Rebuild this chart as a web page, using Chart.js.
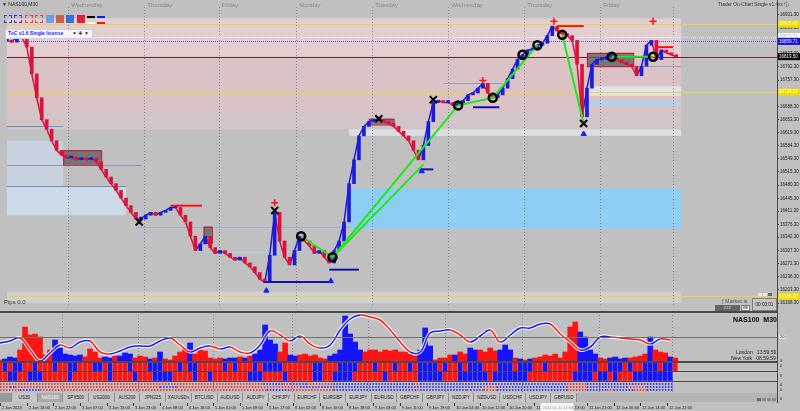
<!DOCTYPE html>
<html lang="en">
<head>
<meta charset="UTF-8">
<title>NAS100,M30</title>
<script src="https://cdn.jsdelivr.net/npm/chart.js"></script>
<style>
  body { margin: 0; width: 800px; height: 411px; background: #c0c0c0; overflow: hidden; position: relative;
         font-family: "Liberation Sans", "DejaVu Sans", sans-serif; }
  canvas { position: absolute; left: 0; }
  .ov { position: absolute; white-space: nowrap; line-height: 1; }
  .hl { position: absolute; left: 0; width: 777px; height: 1px; background: #4a4a4a; }
  .sq { position: absolute; top: 15px; width: 8px; height: 8px; box-sizing: border-box; }
  #tabs { position: absolute; left: 0; top: 393px; width: 777px; height: 9px; background: #b4b4b4; display: flex; }
  #tabs div { width: 25.7px; height: 9px; box-sizing: border-box; border-right: 1px solid #8c8c8c; background: #c6c6c6;
              font-size: 4.6px; line-height: 9px; text-align: center; color: #222; }
  #tabs div.on { background: #a9a9a9; color: #fff; }
</style>
</head>
<body>
<canvas id="main" width="800" height="312" style="top:0"></canvas>
<canvas id="osc" width="800" height="50" style="top:312px"></canvas>
<canvas id="rows" width="800" height="19" style="top:362px"></canvas>
<canvas id="dots" width="800" height="29" style="top:382px"></canvas>

<!-- panel separators -->
<div class="hl" style="top:311px;height:2px"></div>
<div class="hl" style="top:337px;background:#707070"></div>
<div class="hl" style="top:361px;height:2px"></div>
<div class="hl" style="top:371px"></div>
<div class="hl" style="top:381px"></div>
<div style="position:absolute;left:777px;top:0;width:1px;height:403px;background:#4a4a4a"></div>

<!-- top left widgets -->
<div class="ov" style="left:2px;top:2px;font-size:5px;color:#222">▼ NAS100,M30</div>
<div class="sq" style="left:4px;border:1px dashed #3a3ae0"></div>
<div class="sq" style="left:14px;border:1px dashed #3a3ae0"></div>
<div class="sq" style="left:25px;border:1px dashed #e04848"></div>
<div class="sq" style="left:35px;border:1px dashed #e04848"></div>
<div class="sq" style="left:46px;background:#6f9de6"></div>
<div class="sq" style="left:56px;background:#c8604a"></div>
<div class="sq" style="left:66px;background:#3b6fe0"></div>
<div class="sq" style="left:77px;background:#e0203a"></div>
<div style="position:absolute;left:87px;top:16px;width:8px;height:2px;background:#000"></div>
<div style="position:absolute;left:87px;top:22px;width:8px;height:2px;background:#fff"></div>
<div style="position:absolute;left:97px;top:16px;width:8px;height:2px;background:#1a1ae8"></div>
<div style="position:absolute;left:97px;top:22px;width:8px;height:2px;background:#e81a1a"></div>
<div class="ov" style="left:5px;top:29px;width:86px;height:8px;background:#f6f6fa;border:1px solid #d0d0d8;border-radius:2px"></div>
<div class="ov" style="left:8px;top:31px;font-size:5px;font-weight:bold;color:#2a2af0">ToC v1.6 Single license</div>
<div class="ov" style="left:72px;top:31px;font-size:5px;color:#333">▼ ✚ ▼</div>
<div class="ov" style="left:718px;top:3px;font-size:4.8px;color:#333">Trader On-Chart Single v1.4xx ⓘ</div>

<!-- bottom of main pane -->
<div class="ov" style="left:4px;top:299px;font-size:6px;color:#333">Pips 0.0</div>
<div class="ov" style="left:758px;top:293px;width:4px;height:3px;background:#e8e8e8"></div>
<div class="ov" style="left:763px;top:293px;width:4px;height:3px;background:#e8e8e8"></div>
<div class="ov" style="left:768px;top:293px;width:4px;height:3px;background:#6a6a6a"></div>
<div class="ov" style="left:722px;top:299px;font-size:5.5px;color:#555">[ Market is</div>
<div class="ov" style="left:715px;top:305px;width:25px;height:6px;background:#666;color:#ddd;font-size:4px;text-align:center;line-height:6px">ZZZ</div>
<div class="ov" style="left:741px;top:305px;width:9px;height:6px;background:#eee;border:1px solid #777;box-sizing:border-box;font-size:3.5px;text-align:center;line-height:5px">KE</div>
<div class="ov" style="left:752px;top:298px;width:25px;height:13px;border:1px solid #808080;box-sizing:border-box;background:#c4c4c4;font-size:4.6px;text-align:center;line-height:12px;color:#222">00:00:01</div>

<!-- oscillator pane texts -->
<div class="ov" style="left:733px;top:316px;font-size:7px;font-weight:bold;color:#000">NAS100&nbsp; M30</div>
<div class="ov" style="left:736px;top:350px;font-size:5px;color:#222">London&nbsp;&nbsp; 13:59:59</div>
<div class="ov" style="left:731px;top:356px;font-size:5px;color:#222">New York&nbsp;&nbsp; 08:59:59</div>
<div class="ov" style="left:779px;top:335px;font-size:4px;color:#222;background:#e8e8e8;padding:0 1px">20</div>
<div class="ov" style="left:780px;top:359px;font-size:4px;color:#222">0</div>
<div class="ov" style="left:780px;top:364px;font-size:4px;color:#222">0</div>
<div class="ov" style="left:780px;top:374px;font-size:4px;color:#222">0</div>
<div class="ov" style="left:780px;top:383px;font-size:4px;color:#222">0</div>
<div class="ov" style="left:780px;top:388px;font-size:4px;color:#222">0</div>
<div class="ov" style="left:780px;top:397px;font-size:4px;color:#222">0</div>

<div id="tabs"></div>
<div class="ov" style="left:757px;top:398px;width:4px;height:3px;background:#6a6a6a"></div>
<div class="ov" style="left:762px;top:398px;width:4px;height:3px;background:#8a8a8a"></div>
<div class="ov" style="left:767px;top:398px;width:4px;height:3px;background:#8a8a8a"></div>
<div class="ov" style="left:772px;top:398px;width:4px;height:3px;background:#8a8a8a"></div>

<script>
// ---- data ----
// closes sampled every 3 M30 bars (bar 0 = left edge)
const closes = [
  16862.5, 16858.0, 16875.1, 16870.0, 16844.8, 16774.1, 16711.0, 16653.0, 16627.7, 16597.4,
  16572.2, 16559.6, 16552.0, 16554.5, 16547.0, 16552.0, 16547.0, 16552.0, 16541.9, 16521.7,
  16501.5, 16483.9, 16466.2, 16446.0, 16425.8, 16408.1, 16390.5, 16390.5, 16400.6, 16408.1,
  16400.6, 16408.1, 16413.2, 16420.8, 16420.8, 16400.6, 16382.9, 16345.0, 16307.2, 16324.8,
  16345.0, 16314.7, 16299.6, 16307.2, 16299.6, 16289.5, 16281.9, 16289.5, 16274.4, 16264.3,
  16249.1, 16231.5, 16223.9, 16294.6, 16408.1, 16332.4, 16289.5, 16269.3, 16307.2, 16345.0,
  16332.4, 16319.8, 16299.6, 16307.2, 16289.5, 16274.4, 16307.2, 16332.4, 16382.9, 16483.9,
  16547.0, 16610.1, 16635.3, 16647.9, 16653.0, 16653.0, 16647.9, 16642.9, 16635.3, 16622.7,
  16610.1, 16597.4, 16572.2, 16547.0, 16584.8, 16647.9, 16698.4, 16703.4, 16698.4, 16698.4,
  16690.8, 16693.3, 16703.4, 16718.6, 16723.6, 16736.3, 16748.9, 16723.6, 16711.0, 16718.6,
  16736.3, 16761.5, 16786.7, 16812.0, 16824.6, 16837.2, 16837.2, 16849.8, 16854.9, 16875.1,
  16900.3, 16887.7, 16880.1, 16875.1, 16862.5, 16799.4, 16660.5, 16736.3, 16799.4, 16812.0,
  16812.0, 16819.5, 16824.6, 16812.0, 16804.4, 16799.4, 16794.3, 16769.1, 16794.3, 16849.8,
  16862.5, 16812.0, 16837.2, 16829.6, 16824.6, 16819.5
];
// histogram, same sampling; + blue, - red
const histo = [
  -2, 3, 5, 4, -12, -35, -27, -28, -25, -7,
  -12, 22, 14, 8, 7, 6, 7, -5, -13, -10,
  -4, 5, 4, -6, 6, 9, 8, -4, -6, -5,
  3, -4, 10, -3, -2, -6, -10, -14, 19, -8,
  -12, -11, -4, -3, -4, 3, 4, 4, -5, 4,
  -6, 8, 12, 37, 22, 18, -10, -19, 7, 6,
  -7, -8, -6, -7, -4, -3, 6, 8, 12, 46,
  28, 20, 12, -10, -12, -12, -10, -12, -11, -12,
  -10, -10, -8, -6, 12, 34, 16, -2, -4, -4,
  -7, 7, -10, -8, 14, 12, -12, -10, -14, -11,
  12, 17, 12, -4, 3, -2, 3, -4, -5, -7,
  -6, -8, -4, -10, -35, -40, 30, 25, 12, 8,
  -4, -3, 4, 5, 3, 4, -4, -5, -6, -8,
  25, -12, -10, -9, 5, -4
];
// oscillator line, every 6 bars
const oscLine = [
  19, 21, 24, 12, 1, 9, 17, 14, 20, 21,
  10, 8, 11, 15, 16, 16, 21, 24, 17, 10,
  14, 16, 13, 15, 10, 9, 17, 31, 27, 21,
  26, 18, 14, 17, 32, 43, 47, 45, 42, 32,
  20, 10, 10, 29, 31, 32, 27, 20, 26, 32,
  20, 27, 34, 34, 38, 38, 28, 20, 12, 15,
  25, 25, 24, 23, 22, 18, 23, 22
];
// strength rows, one letter per 3 bars
const rowA = 'rbrbbrrbrrrbrrbbrrrbbrbrrrbrrrbbbrrrbrbbrrrrrbrbrrrbrbbbbrrrrrrbbrrrbbbbrrrbrrrbrrbrbbbbrbrrbrbbbrrrbbbrbbbrrbrrrrrrbbbbrrbbbrbrrbbbrbbr';
const rowB = 'rrbbrrbbbrrrrrbrrrrrrrbrrrrbrrrbbbbrrrrbrrbrrrrrrrbbbrrrrbrrrrrbbrrbbbbrrrrrrbrrrrrrbbbbbrrrbbbbbbrbbbbbbbrrrrrrrrrbbbbrbbrbrrrbbbbbbbb';
// dotted rows: end bar of each segment, colours alternate starting with red
const dotEnds = [
  [158, 170, 174, 184, 200, 248, 252, 340, 352, 404],
  [6, 9, 96, 106, 180, 290, 298, 340, 352, 376, 388, 404],
  [12, 24, 160, 174, 200, 250, 252, 280, 282, 290, 298, 340, 352, 364, 368, 380, 388, 404]
];

const priceTicks = ['16168.30', '16203.30', '16238.30', '16272.30', '16307.30', '16342.30', '16376.30', '16411.30',
  '16445.30', '16480.30', '16515.30', '16549.30', '16584.30', '16619.30', '16653.30', '16688.30', '16723.30',
  '16757.30', '16792.30', '16827.30', '16861.30', '16896.30', '16931.30'];
const timeLabels = ['2 Jan 2024', '2 Jan 14:00', '2 Jan 22:00', '3 Jan 07:00', '3 Jan 15:00', '3 Jan 23:00',
  '4 Jan 08:00', '4 Jan 16:00', '5 Jan 01:00', '5 Jan 09:00', '5 Jan 17:00', '8 Jan 02:00', '8 Jan 10:00',
  '8 Jan 18:00', '9 Jan 03:00', '9 Jan 11:00', '9 Jan 19:00', '10 Jan 04:00', '10 Jan 12:00', '10 Jan 20:00',
  '11 Jan 05:00', '11 Jan 13:00', '11 Jan 21:00', '12 Jan 06:00', '12 Jan 14:00', '12 Jan 22:00'];
const crossTime = '2024.01.11 11:04';
const crossBar = 332;
const dayBars = [37, 83, 128, 175, 221, 267, 313, 359, 403];
const dayNames = ['Wednesday', 'Thursday', 'Friday', 'Monday', 'Tuesday', 'Wednesday', 'Thursday', 'Friday'];
const tabNames = ['US30', 'NAS100', 'SPX500', 'US2000', 'AUS200', 'JPN225', 'XAUUSDx', 'BTCUSD', 'AUDUSD', 'AUDJPY',
  'CHFJPY', 'EURCHF', 'EURGBP', 'EURJPY', 'EURUSD', 'GBPCHF', 'GBPJPY', 'NZDJPY', 'NZDUSD', 'USDCHF', 'USDJPY', 'GBPUSD'];

// zones (bar range, price range)
const zoneFrom = [0, 0, 0, 0, 0, 207, 351, 351, 207, 0];
const zoneTo = [408, 408, 408, 34, 72, 408, 408, 408, 408, 408];
const zoneLow = [16819.5, 16673.2, 16627.7, 16476.3, 16400.6, 16365.2, 16716.1, 16688.3, 16610.1, 16168.3];
const zoneHigh = [16920.5, 16819.5, 16673.2, 16597.4, 16476.3, 16471.2, 16741.3, 16700.9, 16627.7, 16198.6];
const zoneColor = ['#e3cfd1', '#dbc2c5', '#d3c5c7', '#c8d2de', '#ccd9e6', '#8dcff4', '#dfe3e8', '#abd4f2', '#dcdde2', '#d0d0d0'];
// consolidation boxes
const boxFrom = [34, 219, 351, 119];
const boxTo = [57, 234, 379, 124];
const boxLow = [16534.3, 16640.3, 16794.3, 16327.4];
const boxHigh = [16572.2, 16655.5, 16829.6, 16370.3];
// horizontal levels
const levFrom = [0, 0, 0, 0, 0, 0, 0, 0, 0, 78, 120, 264, 351];
const levTo = [466, 466, 466, 466, 466, 466, 34, 81, 72, 207, 207, 300, 408];
const levPrice = [16905.4, 16872.5, 16859.9, 16819.5, 16726.2, 16186.0, 16635.3, 16534.3, 16478.8, 16370.3, 16302.1, 16748.9, 16794.3];
const levColor = ['#e8d44a', '#f6f6f6', '#5a5af0', '#6e2a2a', '#e8d44a', '#e8d44a', '#6f8fbf', '#7d9ac6', '#6f8fbf', '#9ab4d8', '#b4c8e0', '#8aa0c8', '#8aa0c8'];
const levDash = [0, 1, 1, 0, 0, 0, 0, 0, 0, 0, 0, 0, 0];
// short thick lines
const redLineFrom = [99, 333, 393], redLineTo = [118, 349, 403], redLinePrice = [16425.8, 16900.3, 16844.8];
const blueLineFrom = [155, 195, 282, 249], blueLineTo = [197, 213, 298, 258], blueLinePrice = [16223.9, 16256.7, 16685.8, 16521.7];
// markers
const ringBars = [178, 197, 273, 294, 312, 321, 336, 366, 391];
const ringPrices = [16345.0, 16289.5, 16690.8, 16711.0, 16824.6, 16849.8, 16877.6, 16819.5, 16819.5];
const crossBars = [80, 162, 225, 258, 349];
const crossPrices = [16382.9, 16413.2, 16655.5, 16706.0, 16642.9];
const plusBars = [162, 288, 331, 391];
const plusPrices = [16433.4, 16756.4, 16912.9, 16912.9];
const arrowBars = [157, 196, 349, 251];
const arrowPrices = [16201.2, 16226.4, 16615.1, 16516.7];
const greenFrom = [[178, 16345.0], [197, 16289.5], [197, 16289.5], [273, 16690.8], [294, 16711.0], [336, 16877.6], [366, 16819.5]];
const greenTo = [[197, 16289.5], [252, 16534.3], [273, 16690.8], [294, 16711.0], [321, 16849.8], [349, 16642.9], [391, 16819.5]];
// right axis price tags
const tagPrice = [16905.4, 16872.5, 16859.9, 16819.5, 16726.2, 16186.0];
const tagText = ['16905.40', '16872.71', '16859.71', '16819.50', '16726.20', '16186.00'];
const tagBg = ['#f0dc00', '#ffffff', '#1010e0', '#000000', '#f0dc00', '#f0dc00'];
const tagFg = ['#fffbd0', '#b0b0b0', '#ffffff', '#ffffff', '#fffbd0', '#fffbd0'];

// ---- setup ----
const X_MAX = 466, STEP = 3, OSC_STEP = 6, LABEL_EVERY = 16, AXIS_W = 23;
const Y_MIN = 16163.3, Y_MAX = 16950.8;
const RED = '#d8143c', BLUE = '#1c1cd8', HRED = '#ff1414', HBLUE = '#1414ff';

Chart.defaults.font.family = "'Liberation Sans', 'DejaVu Sans', sans-serif";
Chart.defaults.animation = false;
Chart.defaults.events = [];
Chart.defaults.plugins.legend.display = false;
Chart.defaults.plugins.tooltip.enabled = false;

const tabs = document.getElementById('tabs');
const lead = document.createElement('div');
lead.style.width = '12px';
lead.style.background = '#9a9a9a';
tabs.appendChild(lead);
tabNames.forEach((n, i) => {
  const d = document.createElement('div');
  d.textContent = n;
  if (i === 1) d.className = 'on';
  tabs.appendChild(d);
});

function xScale() {
  return { type: 'linear', min: 0, max: X_MAX, offset: false, display: false };
}
function yScale(min, max, extra) {
  return Object.assign({
    type: 'linear', position: 'right', min, max,
    grid: { display: false },
    border: { display: false },
    ticks: { display: false },
    afterFit: s => { s.width = AXIS_W; }
  }, extra || {});
}

function drawDays(chart) {
  const { ctx, chartArea: a, scales: { x } } = chart;
  ctx.save();
  ctx.strokeStyle = '#8a8a8a';
  ctx.lineWidth = 1;
  ctx.setLineDash([1, 2]);
  dayBars.forEach(b => {
    const px = Math.round(x.getPixelForValue(b)) + 0.5;
    ctx.beginPath();
    ctx.moveTo(px, a.top);
    ctx.lineTo(px, a.bottom);
    ctx.stroke();
  });
  ctx.restore();
}
const daysPlugin = { id: 'days', beforeDatasetsDraw: drawDays };

// main pane decorations
const mainDecor = {
  id: 'mainDecor',
  beforeDatasetsDraw(chart) {
    const { ctx, chartArea: a, scales: { x, y } } = chart;
    ctx.save();
    ctx.beginPath();
    ctx.rect(a.left, a.top, a.width, a.height);
    ctx.clip();
    zoneFrom.forEach((f, i) => {
      const x0 = x.getPixelForValue(f), x1 = x.getPixelForValue(zoneTo[i]);
      const y0 = y.getPixelForValue(zoneHigh[i]), y1 = y.getPixelForValue(zoneLow[i]);
      ctx.fillStyle = zoneColor[i];
      ctx.fillRect(x0, y0, x1 - x0, y1 - y0);
    });
    drawDays(chart);
    levPrice.forEach((p, i) => {
      const py = Math.round(y.getPixelForValue(p)) + 0.5;
      ctx.strokeStyle = levColor[i];
      ctx.lineWidth = 1;
      ctx.setLineDash(levDash[i] ? [1, 1] : []);
      ctx.beginPath();
      ctx.moveTo(x.getPixelForValue(levFrom[i]), py);
      ctx.lineTo(x.getPixelForValue(levTo[i]), py);
      ctx.stroke();
    });
    ctx.setLineDash([]);
    boxFrom.forEach((f, i) => {
      const x0 = x.getPixelForValue(f), x1 = x.getPixelForValue(boxTo[i]);
      const y0 = y.getPixelForValue(boxHigh[i]), y1 = y.getPixelForValue(boxLow[i]);
      ctx.fillStyle = 'rgba(96,96,96,0.8)';
      ctx.fillRect(x0, y0, x1 - x0, y1 - y0);
      ctx.strokeStyle = '#c4103a';
      ctx.lineWidth = 1;
      ctx.strokeRect(x0 + 0.5, y0 + 0.5, x1 - x0, y1 - y0);
    });
    ctx.restore();
  },
  afterDraw(chart) {
    const { ctx, chartArea: a, scales: { x, y } } = chart;
    ctx.save();
    ctx.font = "6px 'Liberation Sans'";
    ctx.fillStyle = '#8a8a8a';
    ctx.textBaseline = 'top';
    dayNames.forEach((n, i) => ctx.fillText(n, x.getPixelForValue(dayBars[i]) + 3, 2));
    ctx.font = "4.5px 'Liberation Sans'";
    ctx.textBaseline = 'middle';
    tagPrice.forEach((p, i) => {
      const py = y.getPixelForValue(p);
      ctx.fillStyle = tagBg[i];
      ctx.fillRect(a.right + 1, py - 3.5, AXIS_W - 1, 7);
      ctx.fillStyle = tagFg[i];
      ctx.fillText(tagText[i], a.right + 2, py);
    });
    ctx.restore();
  }
};

// time axis under the tab row
const timeAxis = {
  id: 'timeAxis',
  afterDraw(chart) {
    const { ctx, chartArea: a, scales: { x } } = chart;
    const top = a.bottom + 11;
    ctx.save();
    ctx.font = "4px 'Liberation Sans'";
    ctx.fillStyle = '#111';
    ctx.strokeStyle = '#333';
    ctx.lineWidth = 1;
    ctx.textBaseline = 'top';
    timeLabels.forEach((t, i) => {
      const px = Math.round(x.getPixelForValue(i * LABEL_EVERY)) + 0.5;
      ctx.beginPath();
      ctx.moveTo(px, top - 1);
      ctx.lineTo(px, top + 2);
      ctx.stroke();
      ctx.fillText(t, px + 1.5, top + 1.5);
    });
    const cx = x.getPixelForValue(crossBar);
    ctx.fillStyle = '#f4f4f4';
    ctx.fillRect(cx - 13, top - 1, 33, 8);
    ctx.fillStyle = '#a0a0a0';
    ctx.font = "4px 'Liberation Sans'";
    ctx.fillText(crossTime, cx - 11, top + 1.5);
    ctx.restore();
  }
};

const pts = (bars, prices) => bars.map((b, i) => ({ x: b, y: prices[i] }));
const marker = (data, style) => Object.assign({ type: 'line', data, showLine: false, pointBorderColor: '#000',
  pointBackgroundColor: 'rgba(0,0,0,0)' }, style);
const seg = (from, to, price, color) => from.map((f, i) => ({
  type: 'line', data: [{ x: f, y: price[i] }, { x: to[i], y: price[i] }],
  borderColor: color, borderWidth: 2, pointRadius: 0
}));

const prev = closes.map((c, i) => (i ? closes[i - 1] : c));

new Chart(document.getElementById('main'), {
  type: 'line',
  data: {
    datasets: [
      marker(pts(ringBars, ringPrices), { pointStyle: 'circle', pointRadius: 4, pointBorderWidth: 2.5 }),
      marker(pts(crossBars, crossPrices), { pointStyle: 'crossRot', pointRadius: 5, pointBorderWidth: 2 }),
      marker(pts(plusBars, plusPrices), { pointStyle: 'cross', pointRadius: 3.5, pointBorderWidth: 1.5, pointBorderColor: '#ff1010' }),
      marker(pts(arrowBars, arrowPrices), { pointStyle: 'triangle', pointRadius: 3, pointBorderColor: '#1a1aff', pointBackgroundColor: '#1a1aff' }),
      ...greenFrom.map((f, i) => ({
        type: 'line', data: [{ x: f[0], y: f[1] }, { x: greenTo[i][0], y: greenTo[i][1] }],
        borderColor: '#1ee81e', borderWidth: 2, pointRadius: 0
      })),
      ...seg(redLineFrom, redLineTo, redLinePrice, '#ff1010'),
      ...seg(blueLineFrom, blueLineTo, blueLinePrice, '#1010b0'),
      {
        type: 'bar',
        data: closes.map((c, i) => ({ x: i * STEP, y: [prev[i], c] })),
        backgroundColor: closes.map((c, i) => (c >= prev[i] ? BLUE : RED)),
        barThickness: 3, minBarLength: 2, grouped: false
      },
      {
        type: 'line',
        data: closes.map((c, i) => ({ x: i * STEP, y: c })),
        borderWidth: 1.5, pointRadius: 0,
        segment: { borderColor: c => (c.p1.parsed.y >= c.p0.parsed.y ? BLUE : RED) }
      }
    ]
  },
  options: {
    responsive: false,
    layout: { padding: 0 },
    scales: {
      x: xScale(),
      y: yScale(Y_MIN, Y_MAX, {
        afterBuildTicks: s => { s.ticks = priceTicks.map(t => ({ value: parseFloat(t) })); },
        grid: { display: true, drawOnChartArea: false, drawTicks: true, tickLength: 2, color: '#333' },
        ticks: { display: true, autoSkip: false, padding: 1, color: '#1a1a1a', font: { size: 4.5 },
                 callback: v => v.toFixed(2) }
      })
    }
  },
  plugins: [mainDecor]
});

// oscillator pane
const oscData = oscLine.map((v, i) => ({ x: i * OSC_STEP, y: v }));
new Chart(document.getElementById('osc'), {
  type: 'line',
  data: {
    datasets: [
      { data: oscData, borderWidth: 1.5, pointRadius: 0, tension: 0.4,
        segment: { borderColor: c => (c.p1.parsed.y >= c.p0.parsed.y ? HBLUE : HRED) } },
      { data: oscData, borderColor: '#ffffff', borderWidth: 3.5, pointRadius: 0, tension: 0.4 },
      { type: 'bar', data: histo.map((v, i) => ({ x: i * STEP, y: Math.abs(v) })),
        backgroundColor: histo.map(v => (v >= 0 ? HBLUE : HRED)), barThickness: 5, grouped: false }
    ]
  },
  options: { responsive: false, layout: { padding: 0 }, scales: { x: xScale(), y: yScale(0, 50) } },
  plugins: [daysPlugin]
});

// strength rows
const rowData = (s, lo, hi) => s.split('').map((c, i) => ({ x: i * STEP, y: [lo, hi] }));
const rowColors = s => s.split('').map(c => (c === 'b' ? HBLUE : HRED));
new Chart(document.getElementById('rows'), {
  type: 'bar',
  data: {
    datasets: [
      { data: rowData(rowA, 1.05, 1.95), backgroundColor: rowColors(rowA), barThickness: 4, grouped: false },
      { data: rowData(rowB, 0.05, 0.95), backgroundColor: rowColors(rowB), barThickness: 4, grouped: false }
    ]
  },
  options: { responsive: false, layout: { padding: 0 }, scales: { x: xScale(), y: yScale(0, 2) } },
  plugins: [daysPlugin]
});

// dotted rows + time axis
const dotLevels = [9, 6, 3];
new Chart(document.getElementById('dots'), {
  type: 'line',
  data: {
    datasets: dotEnds.map((ends, r) => ({
      data: [{ x: 0, y: dotLevels[r] }, ...ends.map(e => ({ x: e, y: dotLevels[r] }))],
      borderWidth: 1.5, borderDash: [1.5, 1.5], pointRadius: 0,
      segment: { borderColor: c => (c.p0DataIndex % 2 === 0 ? HRED : HBLUE) }
    }))
  },
  options: {
    responsive: false,
    layout: { padding: { bottom: 18 } },
    scales: { x: xScale(), y: yScale(0, 11) }
  },
  plugins: [daysPlugin, timeAxis]
});
</script>
</body>
</html>
